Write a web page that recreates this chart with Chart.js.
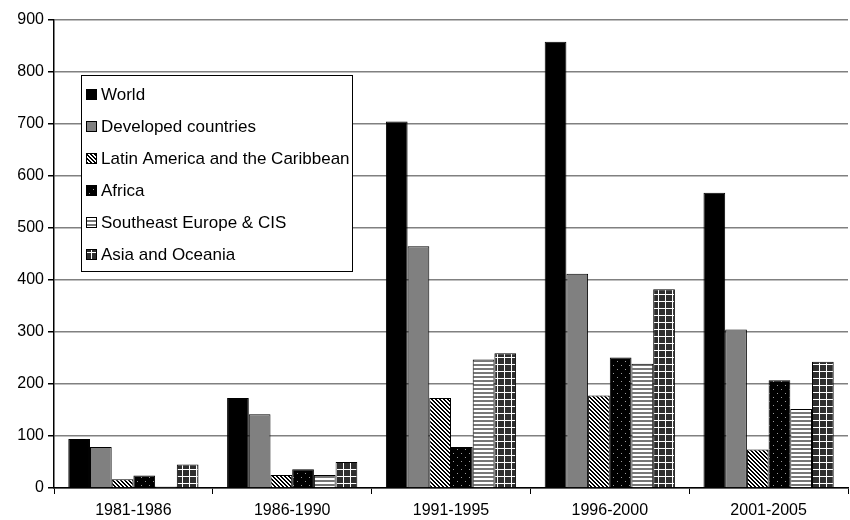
<!DOCTYPE html>
<html>
<head>
<meta charset="utf-8">
<script src="https://cdn.jsdelivr.net/npm/chart.js@4/dist/chart.umd.min.js"></script>
<style>
  html, body { margin: 0; padding: 0; background: #fff; }
  #wrap { width: 850px; height: 520px; }
</style>
</head>
<body>
<div id="wrap"><canvas id="chart" width="850" height="520"></canvas></div>
<script>
// periods on the x axis
const periods = ['1981-1986', '1986-1990', '1991-1995', '1996-2000', '2001-2005'];

// series values
const world = [94, 173, 705, 858, 568];
const developed = [79, 142, 465, 412, 305];
const latinAmerica = [17, 25, 173, 178, 74];
const africa = [24, 36, 79, 251, 207];
const seEurope = [3, 25, 247, 239, 152];
const asiaOceania = [45, 50, 259, 382, 243];

const seriesNames = ['World', 'Developed countries', 'Latin America and the Caribbean',
  'Africa', 'Southeast Europe & CIS', 'Asia and Oceania'];

const yTicks = [0, 100, 200, 300, 400, 500, 600, 700, 800, 900];

const ctx = document.getElementById('chart').getContext('2d');

// little tiles for the hatched fills
function tile(w, h, draw) {
  const c = document.createElement('canvas');
  c.width = w; c.height = h;
  const g = c.getContext('2d');
  draw(g);
  return ctx.createPattern(c, 'repeat');
}

const diagPattern = tile(4, 4, g => {
  g.fillStyle = '#fff'; g.fillRect(0, 0, 4, 4);
  g.fillStyle = '#000';
  for (let x = 0; x < 4; x++) for (let y = 0; y < 4; y++) {
    if (((x - y) % 4 + 4) % 4 < 2) g.fillRect(x, y, 1, 1);
  }
});
const dotPattern = tile(8, 8, g => {
  g.fillStyle = '#000'; g.fillRect(0, 0, 8, 8);
  g.fillStyle = '#9a9a9a';
  g.fillRect(1, 1, 1, 1);
  g.fillRect(5, 5, 1, 1);
});
const stripePattern = tile(4, 4, g => {
  g.fillStyle = '#fff'; g.fillRect(0, 0, 4, 4);
  g.fillStyle = '#777'; g.fillRect(0, 0, 4, 2);
});
const gridPattern = tile(7, 7, g => {
  g.fillStyle = '#2e2e2e'; g.fillRect(0, 0, 7, 7);
  g.fillStyle = '#fff';
  g.fillRect(0, 0, 7, 1);
  g.fillRect(0, 0, 1, 7);
});

const fills = ['#000', '#808080', diagPattern, dotPattern, stripePattern, gridPattern];
const values = [world, developed, latinAmerica, africa, seEurope, asiaOceania];

// legend drawn inside the plot, like the original
const boxLegend = {
  id: 'boxLegend',
  afterDraw(chart) {
    const c = chart.ctx;
    const x0 = 81, y0 = 75, w = 271, h = 196;
    c.save();
    c.fillStyle = '#fff';
    c.fillRect(x0, y0, w, h);
    c.strokeStyle = '#000';
    c.lineWidth = 1;
    c.strokeRect(x0 + 0.5, y0 + 0.5, w, h);
    c.font = '17px "Liberation Sans", Arial, sans-serif';
    c.textBaseline = 'middle';
    seriesNames.forEach((name, i) => {
      const cy = 94 + i * 32;
      c.fillStyle = fills[i];
      c.fillRect(86, cy - 5, 11, 11);
      c.strokeStyle = '#000';
      c.strokeRect(86.5, cy - 4.5, 10, 10);
      c.fillStyle = '#000';
      c.fillText(name, 101, cy + 1);
    });
    c.restore();
  }
};

new Chart(ctx, {
  type: 'bar',
  data: {
    labels: periods,
    datasets: seriesNames.map((name, i) => ({
      label: name,
      data: values[i],
      backgroundColor: fills[i],
      borderColor: '#000',
      borderWidth: 1,
      borderSkipped: 'bottom'
    }))
  },
  options: {
    responsive: false,
    animation: false,
    devicePixelRatio: 1,
    layout: { padding: { top: 20, right: 2, left: 0, bottom: 0 } },
    datasets: { bar: { categoryPercentage: 0.82, barPercentage: 1 } },
    plugins: {
      legend: { display: false },
      tooltip: { enabled: false }
    },
    scales: {
      x: {
        grid: { offset: true, drawOnChartArea: false, tickLength: 6, tickColor: '#000' },
        border: { color: '#000', width: 1.5 },
        ticks: { color: '#000', font: { family: '"Liberation Sans", Arial', size: 16 }, padding: 7 },
        afterFit(s) { s.height = 32; }
      },
      y: {
        min: 0,
        max: 900,
        afterBuildTicks(s) { s.ticks = yTicks.map(v => ({ value: v })); },
        grid: { color: '#808080', lineWidth: 1.5, tickLength: 6, tickColor: '#000' },
        border: { color: '#000', width: 1.5 },
        ticks: { color: '#000', font: { family: '"Liberation Sans", Arial', size: 16 }, padding: 4 },
        afterFit(s) { s.width = 54; }
      }
    }
  },
  plugins: [boxLegend]
});
</script>
</body>
</html>
